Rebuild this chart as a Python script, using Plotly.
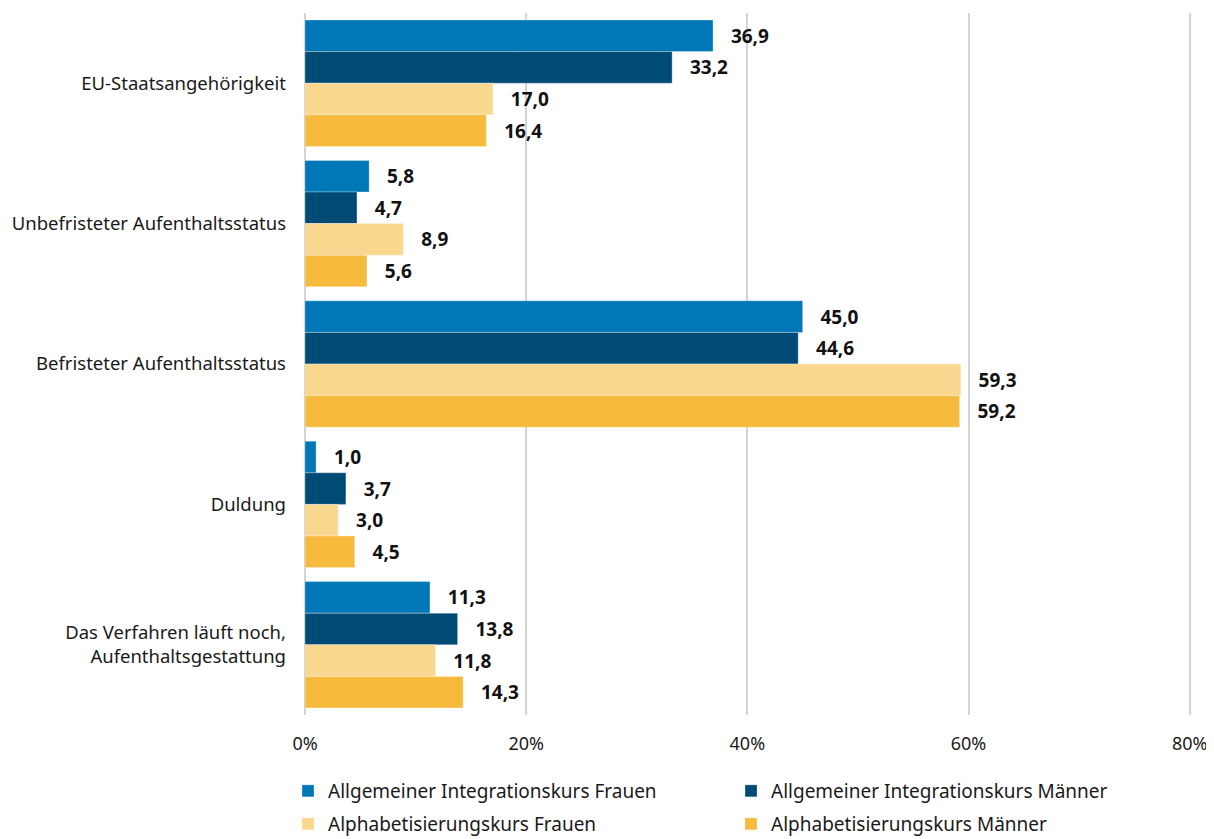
import plotly.graph_objects as go

# ── Daten ─────────────────────────────────────────────────────────────────────
kategorien = [
    "EU-Staatsangehörigkeit",
    "Unbefristeter Aufenthaltsstatus",
    "Befristeter Aufenthaltsstatus",
    "Duldung",
    "Das Verfahren läuft noch,<br>Aufenthaltsgestattung",
]
ik_frauen = [36.9, 5.8, 45.0, 1.0, 11.3]
ik_maenner = [33.2, 4.7, 44.6, 3.7, 13.8]
alpha_frauen = [17.0, 8.9, 59.3, 3.0, 11.8]
alpha_maenner = [16.4, 5.6, 59.2, 4.5, 14.3]

x_ticks = [0, 20, 40, 60, 80]
x_ticklabels = ["0%", "20%", "40%", "60%", "80%"]

serien = [
    ("Allgemeiner Integrationskurs Frauen", ik_frauen, "#0077B6", "legend"),
    ("Allgemeiner Integrationskurs Männer", ik_maenner, "#004B76", "legend"),
    ("Alphabetisierungskurs Frauen", alpha_frauen, "#F9D78E", "legend2"),
    ("Alphabetisierungskurs Männer", alpha_maenner, "#F6BB3D", "legend2"),
]

FONT = "Noto Sans"
W, H = 1206, 831          # Seite hat 8px Body-Rand
M_L, M_R, M_T, M_B = 297, 21, 5, 124
PLOT_W = W - M_L - M_R
PLOT_H = H - M_T - M_B

fig = go.Figure()
for name, werte, farbe, leg in serien:
    fig.add_trace(go.Bar(
        y=kategorien,
        x=werte,
        name=name,
        legend=leg,
        orientation="h",
        marker=dict(color=farbe, line=dict(color="rgba(255,255,255,0.6)", width=0.5)),
        text=[f"{v:.1f}".replace(".", ",") for v in werte],
        texttemplate="   %{text}",
        textposition="outside",
        textfont=dict(family=FONT, size=19, color="#111111", weight="bold"),
        cliponaxis=False,
    ))

_leg = dict(
    orientation="h",
    xanchor="left",
    yanchor="middle",
    entrywidth=398,
    itemwidth=30,
    font=dict(family=FONT, size=19, color="#1a1a1a"),
    bgcolor="rgba(0,0,0,0)",
)

fig.update_layout(
    width=W,
    height=H,
    barmode="group",
    bargap=0.1,
    bargroupgap=0,
    plot_bgcolor="white",
    paper_bgcolor="white",
    font=dict(family=FONT, size=18, color="#1a1a1a"),
    margin=dict(l=M_L, r=M_R, t=M_T, b=M_B, autoexpand=False),
    separators=",.",
    legend=dict(_leg, x=-17 / PLOT_W, y=-76 / PLOT_H),
    legend2=dict(_leg, x=-17 / PLOT_W, y=-109 / PLOT_H),
)
fig.update_xaxes(
    range=[0, 80.3],
    tickvals=x_ticks,
    ticktext=x_ticklabels,
    showgrid=True,
    gridcolor="#d4d4d4",
    gridwidth=2,
    zeroline=True,
    zerolinecolor="#d4d4d4",
    zerolinewidth=2,
    showline=False,
    tickfont=dict(size=18),
    ticklabelstandoff=16,
    automargin=False,
)
fig.update_yaxes(
    autorange="reversed",
    showgrid=False,
    ticks="",
    ticklabelstandoff=18,
    tickfont=dict(size=18.5),
    automargin=False,
)

fig.write_html("out.html")
